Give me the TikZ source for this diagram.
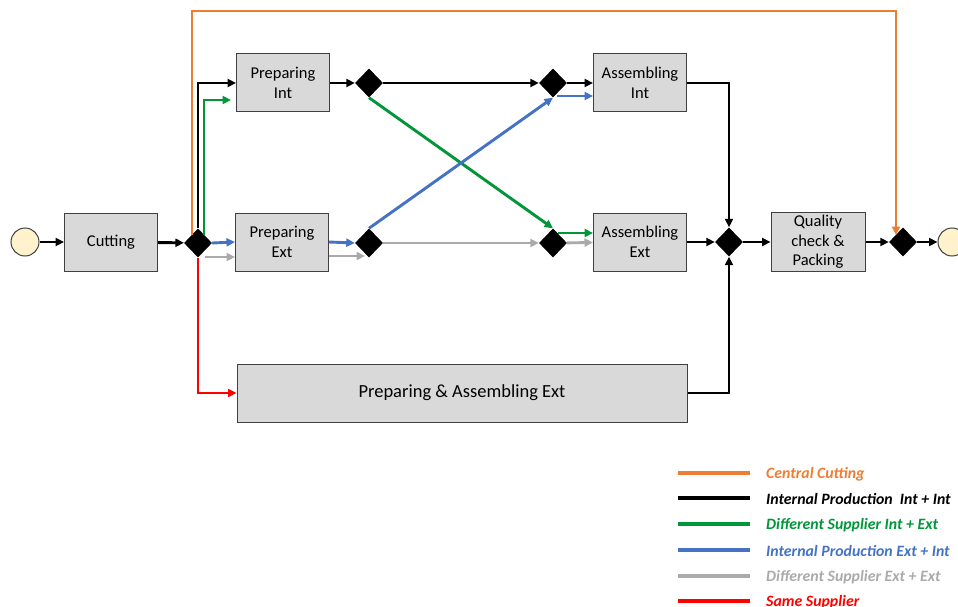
\documentclass[tikz,border=0pt]{standalone}
\usepackage{fontspec}
\setmainfont{Carlito}
\usetikzlibrary{arrows.meta,shapes.geometric}
\definecolor{cutorange}{RGB}{237,125,49}
\definecolor{pathgreen}{RGB}{0,150,57}
\definecolor{pathblue}{RGB}{68,114,196}
\definecolor{pathgray}{RGB}{170,170,170}
\definecolor{boxfill}{RGB}{217,217,217}
\definecolor{boxline}{RGB}{64,64,64}
\definecolor{evfill}{RGB}{255,242,204}
\newcommand\boxfont{\fontsize{16.5}{19.5}\selectfont}
\newcommand\bigboxfont{\fontsize{18.5}{22}\selectfont}
\newcommand\legfont{\fontsize{15.8}{18}\selectfont\bfseries\itshape}
\begin{document}
\begin{tikzpicture}[
                  x=1pt,y=-1pt,
                  box/.style={draw=boxline,fill=boxfill,line width=1pt,minimum width=93pt,minimum height=58pt,align=center,font=\boxfont},
                  gate/.style={diamond,fill=black,inner sep=0pt,minimum width=28pt,minimum height=29pt},
                  event/.style={circle,draw=boxline,fill=evfill,line width=1pt,minimum size=28pt,inner sep=0pt},
                  flow/.style={line width=2.9pt,-{Triangle[length=8.5pt,width=8pt]}},
                  legline/.style={line width=3.4pt},
                  legtext/.style={anchor=west,inner sep=0pt,font=\legfont}
                ]
                  \useasboundingbox (0,0) rectangle (958,607);
                  % events
                  \node[event] (start) at (25,242) {};
                  \node[event] (finish) at (952,242) {};
                  % activities
                  \node[box] (cut) at (111,242) {Cutting};
                  \node[box] (prepInt) at (283,83) {Preparing\\Int};
                  \node[box] (prepExt) at (282,242) {Preparing\\Ext};
                  \node[box] (asmInt) at (640,83) {Assembling\\Int};
                  \node[box] (asmExt) at (640,242) {Assembling\\Ext};
                  \node[box,minimum width=94pt] (qc) at (818,242) {Quality\\check \&\\Packing};
                  \node[box,minimum width=450pt,font=\bigboxfont] (prepAsm) at (462,393) {Preparing \& Assembling Ext};
                  % gateways
                  \node[gate] (gSplit) at (198,243) {};
                  \node[gate] (gPrepInt) at (369,83) {};
                  \node[gate] (gPrepExt) at (369,243) {};
                  \node[gate] (gAsmInt) at (553,83) {};
                  \node[gate] (gAsmExt) at (553,243) {};
                  \node[gate] (gJoin) at (729,242) {};
                  \node[gate] (gEnd) at (903,242) {};
                  \coordinate (topRun) at (545,11);
                  % main line
                  \draw[flow] (start) -- (cut);
                  \draw[flow] (cut) -- (gSplit);
                  \draw[flow] (gSplit.north) |- (prepInt.west);
                  \draw[flow] (prepInt) -- (gPrepInt);
                  \draw[flow] (gPrepInt) -- (gAsmInt);
                  \draw[flow] (gAsmInt) -- (asmInt);
                  \draw[flow] (asmInt.east) -| (gJoin.north);
                  \draw[flow] (asmExt) -- (gJoin);
                  \draw[flow] (prepAsm.east) -| (gJoin.south);
                  \draw[flow] (gJoin) -- (qc);
                  \draw[flow] (qc) -- (gEnd);
                  \draw[flow] (gEnd) -- (finish);
                  % central cutting
                  \draw[flow,cutorange] ([xshift=-6pt,yshift=8pt]gSplit.center) |- (topRun) -| ([xshift=-7pt,yshift=7pt]gEnd.center);
                  % int + ext
                  \draw[flow,pathgreen] ([xshift=6pt,yshift=8pt]gSplit.center) |- ([xshift=-5pt,yshift=-17pt]prepInt.west);
                  \draw[flow,pathgreen] (gPrepInt.south) -- (gAsmExt.north);
                  \draw[flow,pathgreen] ([xshift=5pt,yshift=10pt]gAsmExt.center) -- ([yshift=9pt]asmExt.west);
                  % ext + int
                  \draw[flow,pathblue] (gSplit.east) -- (prepExt.west);
                  \draw[flow,pathblue] (prepExt.east) -- (gPrepExt.west);
                  \draw[flow,pathblue] (gPrepExt.north) -- (gAsmInt.south);
                  \draw[flow,pathblue] ([xshift=4pt,yshift=-13pt]gAsmInt.center) -- ([yshift=-13pt]asmInt.west);
                  % ext + ext
                  \draw[flow,pathgray] ([xshift=7pt,yshift=-14pt]gSplit.center) -- ([yshift=-15pt]prepExt.west);
                  \draw[flow,pathgray] ([yshift=-14pt]prepExt.east) -- ([xshift=-4pt,yshift=-13pt]gPrepExt.center);
                  \draw[flow,pathgray] (gPrepExt) -- (gAsmExt);
                  \draw[flow,pathgray] (gAsmExt) -- (asmExt);
                  % same supplier
                  \draw[flow,red] (gSplit.south) |- (prepAsm.west);
                  % legend
                  \coordinate (legA1) at (678,473); \coordinate (legB1) at (750,473);
                  \coordinate (legA2) at (678,498); \coordinate (legB2) at (750,498);
                  \coordinate (legA3) at (678,524); \coordinate (legB3) at (750,524);
                  \coordinate (legA4) at (678,550); \coordinate (legB4) at (750,550);
                  \coordinate (legA5) at (678,576); \coordinate (legB5) at (750,576);
                  \coordinate (legA6) at (678,601); \coordinate (legB6) at (750,601);
                  \draw[legline,cutorange] (legA1) -- (legB1);
                  \draw[legline,black] (legA2) -- (legB2);
                  \draw[legline,pathgreen] (legA3) -- (legB3);
                  \draw[legline,pathblue] (legA4) -- (legB4);
                  \draw[legline,pathgray] (legA5) -- (legB5);
                  \draw[legline,red] (legA6) -- (legB6);
                  \node[legtext,text=cutorange] (legCentral) at (766,474) {Central Cutting};
                  \node[legtext,text=black] (legIntInt) at (766,499) {Internal Production\ \ Int + Int};
                  \node[legtext,text=pathgreen] (legIntExt) at (766,525) {Different Supplier Int + Ext};
                  \node[legtext,text=pathblue] (legExtInt) at (766,551) {Internal Production Ext + Int};
                  \node[legtext,text=pathgray] (legExtExt) at (766,577) {Different Supplier Ext + Ext};
                  \node[legtext,text=red] (legSame) at (766,602) {Same Supplier};
                \end{tikzpicture}
\end{document}
